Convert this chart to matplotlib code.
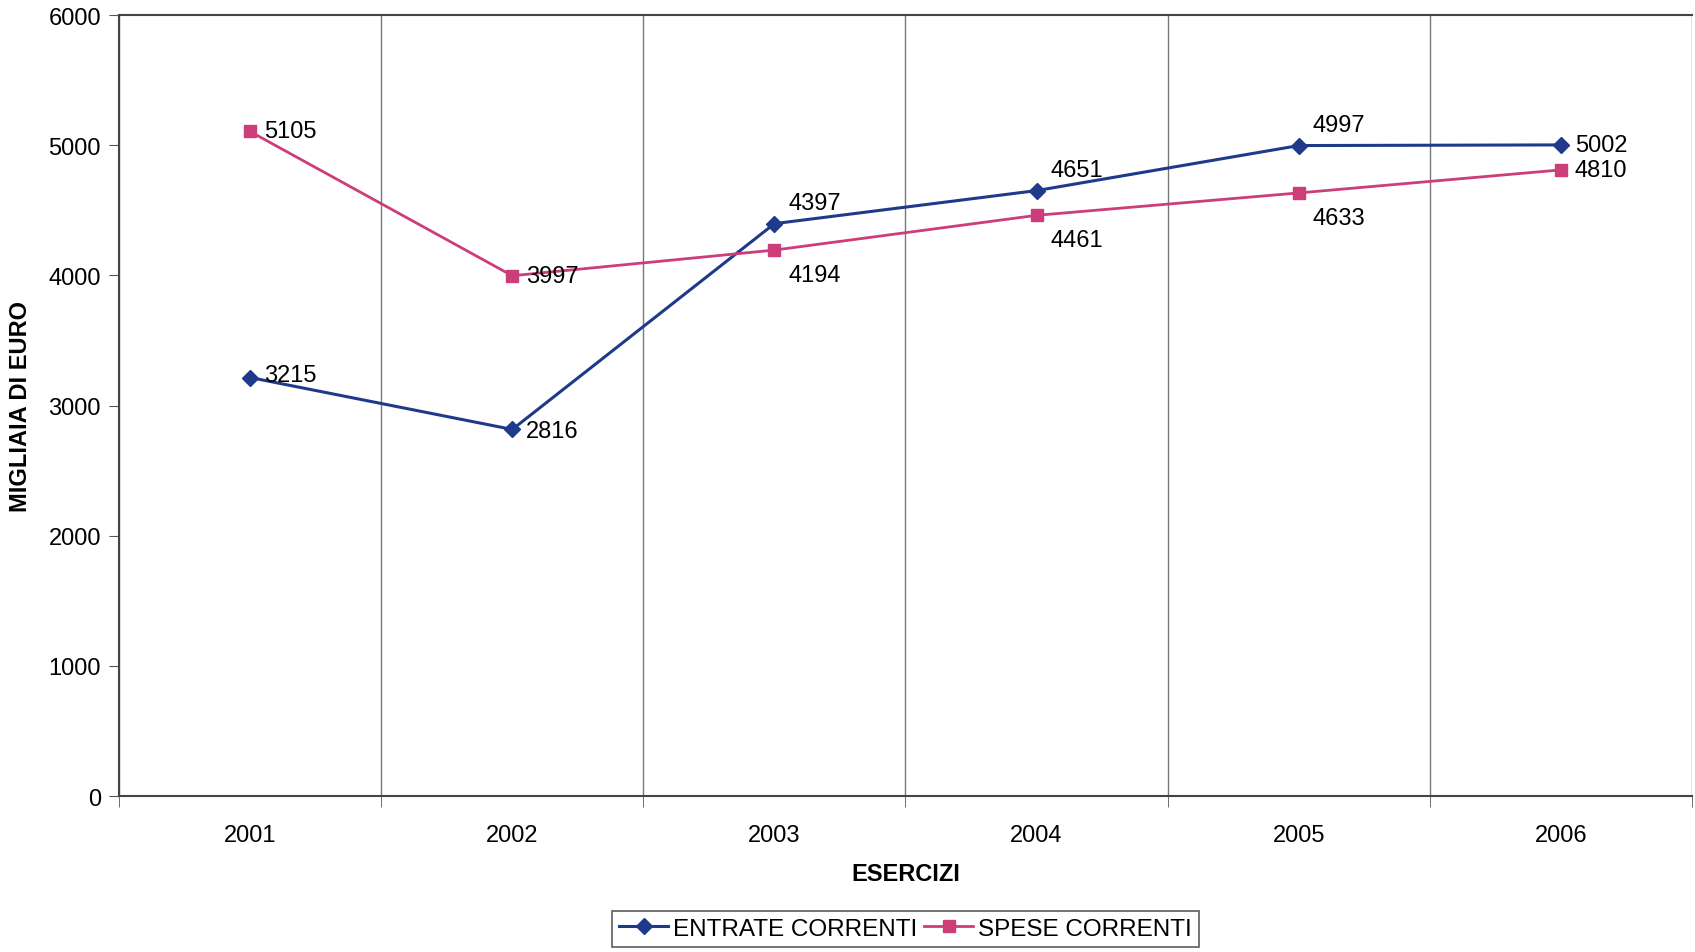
import matplotlib.pyplot as plt
import numpy as np

plt.rcParams['font.family'] = ['Liberation Sans', 'DejaVu Sans']

anni = ['2001', '2002', '2003', '2004', '2005', '2006']
entrate = [3215, 2816, 4397, 4651, 4997, 5002]
spese = [5105, 3997, 4194, 4461, 4633, 4810]

# posizione delle etichette (dx, dy in punti) per ogni valore
off_entrate = [(10, 2), (10, -1), (10, 15), (10, 15), (10, 15), (10, 0)]
off_spese = [(10, 0), (10, 0), (10, -18), (10, -18), (10, -18), (10, 0)]

blu = '#1f3a8a'
rosa = '#cc3d7a'

fig = plt.figure(figsize=(16.95, 9.53), dpi=100)
ax = fig.add_axes([119 / 1695, 1 - 797 / 953, 1573 / 1695, 781 / 953])

x = np.arange(len(anni))
ax.plot(x, entrate, color=blu, lw=2.2, marker='D', ms=8, label='ENTRATE CORRENTI')
ax.plot(x, spese, color=rosa, lw=2, marker='s', ms=9, label='SPESE CORRENTI')

for xi, v, (dx, dy) in zip(x, entrate, off_entrate):
    ax.annotate(str(v), (xi, v), xytext=(dx, dy), textcoords='offset points',
                ha='left', va='center', fontsize=17)
for xi, v, (dx, dy) in zip(x, spese, off_spese):
    ax.annotate(str(v), (xi, v), xytext=(dx, dy), textcoords='offset points',
                ha='left', va='center', fontsize=17)

ax.set_xlim(-0.5, len(anni) - 0.5)
ax.set_ylim(0, 6000)
ax.set_yticks(range(0, 6001, 1000))
ax.set_xticks(x)
ax.set_xticklabels(anni)
ax.set_xticks(np.arange(-0.5, len(anni), 1), minor=True)
ax.tick_params(axis='x', which='major', length=0, pad=20, labelsize=17)
ax.tick_params(axis='x', which='minor', length=8, direction='out', color='#555555')
ax.tick_params(axis='y', length=7, direction='out', labelsize=17, pad=6, color='#555555')
ax.grid(True, axis='x', which='minor', color='#777777', lw=1)

for s in ['left', 'bottom', 'top']:
    ax.spines[s].set_color('#444444')
    ax.spines[s].set_linewidth(1.5)
ax.spines['right'].set_visible(False)

ax.set_xlabel('ESERCIZI', fontsize=17, fontweight='bold', labelpad=12)
ax.set_ylabel('MIGLIAIA DI EURO', fontsize=17, fontweight='bold', labelpad=12)

cx = (119 + 1573 / 2) / 1695
leg = fig.legend(loc='lower center', bbox_to_anchor=(cx, 0.0), ncol=2, fontsize=17.5,
                 frameon=True, fancybox=False, edgecolor='#333333',
                 handlelength=2.0, columnspacing=0.3, handletextpad=0.2,
                 borderpad=0.3, borderaxespad=0.2)
leg.get_frame().set_linewidth(1.2)

fig.savefig('out.png', dpi=100, facecolor='white')
